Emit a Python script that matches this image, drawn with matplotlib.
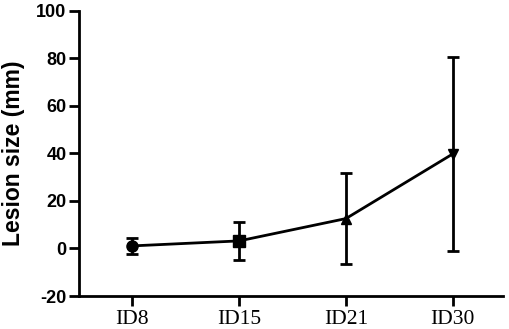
import matplotlib
matplotlib.use("Agg")
import matplotlib.pyplot as plt

plt.rcParams["axes.unicode_minus"] = False

categories = ["ID8", "ID15", "ID21", "ID30"]
means = [1.1, 3.2, 12.6, 39.8]
errors = [3.4, 8.0, 19.1, 40.7]
markers = ["o", "s", "^", "v"]
marker_sizes = [8, 8, 7, 7]

fig = plt.figure(figsize=(5.10, 3.29), dpi=100)
ax = fig.add_axes([0.155, 0.1003, 0.831, 0.8663])

x = list(range(len(categories)))
ax.plot(x, means, color="black", lw=2, zorder=2)
ax.errorbar(x, means, yerr=errors, fmt="none", ecolor="black",
            elinewidth=2, capsize=4, capthick=2, zorder=2)
for xi, yi, m, ms in zip(x, means, markers, marker_sizes):
    ax.plot([xi], [yi], marker=m, color="black", markersize=ms, zorder=3, linestyle="none")

ax.set_xlim(-0.5, 3.47)
ax.set_ylim(-20, 100)
ax.set_yticks([-20, 0, 20, 40, 60, 80, 100])
ax.set_xticks(x)
ax.set_xticklabels(categories, family="Liberation Serif", fontsize=15.5)
for lab in ax.get_yticklabels():
    lab.set_family("Liberation Sans")
    lab.set_fontweight("bold")
    lab.set_fontsize(13)

ax.spines["top"].set_visible(False)
ax.spines["right"].set_visible(False)
ax.spines["left"].set_linewidth(2)
ax.spines["bottom"].set_linewidth(2)
ax.tick_params(axis="both", width=2, length=7, pad=2, color="black")
ax.tick_params(axis="x", pad=3)

ax.set_ylabel("Lesion size (mm)", family="Liberation Sans", fontweight="bold",
              fontsize=16.5, labelpad=8)

fig.savefig("out.png", dpi=100)
